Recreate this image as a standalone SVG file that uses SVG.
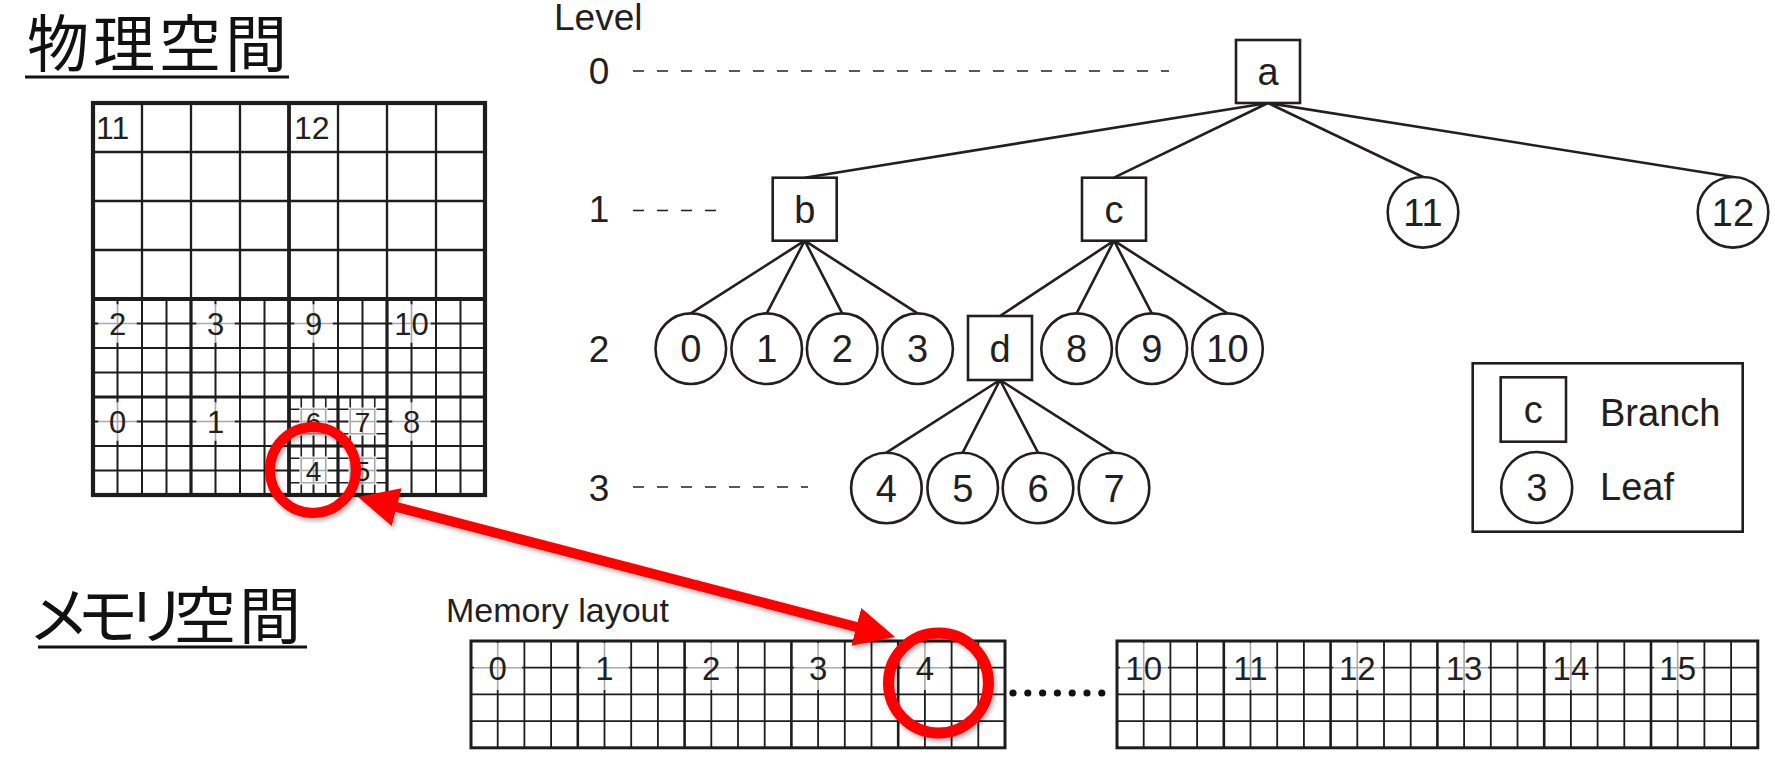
<svg xmlns="http://www.w3.org/2000/svg" width="1775" height="763" viewBox="0 0 1775 763">
<defs>
<style>
.t{font-family:"Liberation Sans",Arial,sans-serif;fill:#231f20}
.jp{font-family:"Noto Sans CJK JP","Noto Sans CJK SC",sans-serif;fill:#111}
.nl{font-size:38px;text-anchor:middle}
.gl{font-size:31px;text-anchor:middle}
.gs{font-size:28px;text-anchor:middle}
.ml{font-size:33px;text-anchor:middle}
.node{fill:#fff;stroke:#231f20;stroke-width:2.6}
.edge{stroke:#231f20;stroke-width:2.6;fill:none}
.dash{stroke:#231f20;stroke-width:1.6;stroke-dasharray:11 13;fill:none}
.k{stroke:#1d1d1d;fill:none}
.wh{stroke:#fff;stroke-width:3.5;fill:none}
.gr{stroke:#a9a9a9;stroke-width:1.6;fill:none}
.red{stroke:#ff0000;fill:none}
</style>
<filter id="sh" x="-20%" y="-20%" width="140%" height="140%">
<feDropShadow dx="2" dy="3" stdDeviation="2" flood-color="#000" flood-opacity="0.3"/>
</filter>
<marker id="ah" viewBox="0 -19.5 40 39" refX="28" refY="0" markerWidth="40" markerHeight="39" markerUnits="userSpaceOnUse" orient="auto-start-reverse">
<path d="M0,-19.5 L40,0 L0,19.5 Z" fill="#ff0000"/>
</marker>
</defs>
<rect width="1775" height="763" fill="#fff"/>

<g id="title-physical">
<text class="jp" font-size="62" text-anchor="middle" x="58 124 190 256" y="67">物理空間</text>
<path d="M25 77H289" stroke="#111" stroke-width="3"/>
</g>
<g id="title-memory">
<text class="jp" font-size="62" text-anchor="middle" x="59 107.5 156.5 205 270" y="639">メモリ空間</text>
<path d="M38 647H307" stroke="#111" stroke-width="3"/>
</g>

<g id="physical-grid">
<path class="k" stroke-width="2.3" d="M142 103V299M191 103V299M240 103V299M338 103V299M387 103V299M436 103V299M93 152H485M93 201H485M93 250H485"/>
<path class="k" stroke-width="2" d="M117.5 299V495M142 299V495M166.5 299V495M215.5 299V495M240 299V495M264.5 299V495M313.5 299V495M362.5 299V495M338 299V397M411.5 299V495M436 299V495M460.5 299V495M93 323.5H485M93 348H485M93 372.5H485M93 421.5H485M93 470.5H485M93 446H289M387 446H485"/>
<path class="k" stroke-width="1.6" d="M301.25 397V495M325.75 397V495M350.25 397V495M374.75 397V495M289 409.25H387M289 433.75H387M289 458.25H387M289 482.75H387"/>
<path class="k" stroke-width="3.2" d="M191 299V495M387 299V495M93 397H485M338 397V495M289 446H387"/>
<path class="k" stroke-width="3.8" d="M289 103V495M93 299H485"/>
<rect class="k" stroke-width="4.2" x="93" y="103" width="392" height="392"/>
<path class="wh" d="M98.5 323.5h38M117.5 304.5v38M196.5 323.5h38M215.5 304.5v38M294.5 323.5h38M313.5 304.5v38M392.5 323.5h38M411.5 304.5v38M98.5 421.5h38M117.5 402.5v38M196.5 421.5h38M215.5 402.5v38M392.5 421.5h38M411.5 402.5v38"/>
<path class="gr" d="M98.5 323.5h38M117.5 304.5v38M196.5 323.5h38M215.5 304.5v38M294.5 323.5h38M313.5 304.5v38M392.5 323.5h38M411.5 304.5v38M98.5 421.5h38M117.5 402.5v38M196.5 421.5h38M215.5 402.5v38M392.5 421.5h38M411.5 402.5v38"/>
<path class="wh" stroke-width="3" d="M301.25 409.25h24.5v24.5h-24.5zM301.25 421.5h24.5M313.5 409.25v24.5M350.25 409.25h24.5v24.5h-24.5zM350.25 421.5h24.5M362.5 409.25v24.5M301.25 458.25h24.5v24.5h-24.5zM301.25 470.5h24.5M313.5 458.25v24.5M350.25 458.25h24.5v24.5h-24.5zM350.25 470.5h24.5M362.5 458.25v24.5"/>
<path class="gr" stroke-width="1.3" d="M301.25 409.25h24.5v24.5h-24.5zM301.25 421.5h24.5M313.5 409.25v24.5M350.25 409.25h24.5v24.5h-24.5zM350.25 421.5h24.5M362.5 409.25v24.5M301.25 458.25h24.5v24.5h-24.5zM301.25 470.5h24.5M313.5 458.25v24.5M350.25 458.25h24.5v24.5h-24.5zM350.25 470.5h24.5M362.5 458.25v24.5"/>
<text class="t" font-size="32" x="96" y="139">11</text>
<text class="t" font-size="32" x="294" y="139">12</text>
<text class="t gl" x="117.5" y="334.5">2</text>
<text class="t gl" x="215.5" y="334.5">3</text>
<text class="t gl" x="313.5" y="334.5">9</text>
<text class="t gl" x="411.5" y="334.5">10</text>
<text class="t gl" x="117.5" y="432.5">0</text>
<text class="t gl" x="215.5" y="432.5">1</text>
<text class="t gl" x="411.5" y="432.5">8</text>
<text class="t gs" x="313.5" y="431.5">6</text>
<text class="t gs" x="362.5" y="431.5">7</text>
<text class="t gs" x="313.5" y="480.5">4</text>
<text class="t gs" x="362.5" y="480.5">5</text>
</g>

<g id="levels">
<text class="t" font-size="37" x="554" y="30">Level</text>
<text class="t" font-size="37" text-anchor="middle" x="599" y="84">0</text>
<text class="t" font-size="37" text-anchor="middle" x="599" y="222">1</text>
<text class="t" font-size="37" text-anchor="middle" x="599" y="362">2</text>
<text class="t" font-size="37" text-anchor="middle" x="599" y="501">3</text>
<path class="dash" d="M633 71H1169M633 210.5H726M633 487H808"/>
</g>

<g id="connectors">
<path class="edge" d="M1268 103L804.7 177.7M1268 103L1114 177.7M1268 103L1423 177M1268 103L1733 177"/>
<path class="edge" d="M804.7 240.7L690.8 313.4M804.7 240.7L766.7 313.4M804.7 240.7L842.2 313.4M804.7 240.7L917.6 313.4"/>
<path class="edge" d="M1114 240.7L1000 316M1114 240.7L1076.6 313.4M1114 240.7L1151.8 313.4M1114 240.7L1227.5 313.4"/>
<path class="edge" d="M1000 380L886.4 452.7M1000 380L962.7 452.7M1000 380L1038 452.7M1000 380L1114 452.7"/>
</g>

<g id="node-a"><rect class="node" x="1236" y="40" width="64" height="63"/><text class="t nl" x="1268" y="85">a</text></g>
<g id="node-b"><rect class="node" x="772.7" y="177.7" width="64" height="63"/><text class="t nl" x="804.7" y="223">b</text></g>
<g id="node-c"><rect class="node" x="1082" y="177.7" width="64" height="63"/><text class="t nl" x="1114" y="223">c</text></g>
<g id="node-11"><circle class="node" cx="1423" cy="212.3" r="35.3"/><text class="t nl" x="1423" y="226">11</text></g>
<g id="node-12"><circle class="node" cx="1733" cy="212.3" r="35.3"/><text class="t nl" x="1733" y="226">12</text></g>
<g id="node-0"><circle class="node" cx="690.8" cy="348.7" r="35.3"/><text class="t nl" x="690.8" y="362.3">0</text></g>
<g id="node-1"><circle class="node" cx="766.7" cy="348.7" r="35.3"/><text class="t nl" x="766.7" y="362.3">1</text></g>
<g id="node-2"><circle class="node" cx="842.2" cy="348.7" r="35.3"/><text class="t nl" x="842.2" y="362.3">2</text></g>
<g id="node-3"><circle class="node" cx="917.6" cy="348.7" r="35.3"/><text class="t nl" x="917.6" y="362.3">3</text></g>
<g id="node-d"><rect class="node" x="968" y="316" width="64" height="64"/><text class="t nl" x="1000" y="361.5">d</text></g>
<g id="node-8"><circle class="node" cx="1076.6" cy="348.7" r="35.3"/><text class="t nl" x="1076.6" y="362.3">8</text></g>
<g id="node-9"><circle class="node" cx="1151.8" cy="348.7" r="35.3"/><text class="t nl" x="1151.8" y="362.3">9</text></g>
<g id="node-10"><circle class="node" cx="1227.5" cy="348.7" r="35.3"/><text class="t nl" x="1227.5" y="362.3">10</text></g>
<g id="node-4"><circle class="node" cx="886.4" cy="488" r="35.3"/><text class="t nl" x="886.4" y="501.6">4</text></g>
<g id="node-5"><circle class="node" cx="962.7" cy="488" r="35.3"/><text class="t nl" x="962.7" y="501.6">5</text></g>
<g id="node-6"><circle class="node" cx="1038" cy="488" r="35.3"/><text class="t nl" x="1038" y="501.6">6</text></g>
<g id="node-7"><circle class="node" cx="1114" cy="488" r="35.3"/><text class="t nl" x="1114" y="501.6">7</text></g>

<g id="legend">
<rect class="k" stroke-width="2.6" x="1472.7" y="363.3" width="270" height="168.4"/>
<rect class="node" x="1500.7" y="377.3" width="65.3" height="64.4"/>
<text class="t nl" x="1533.3" y="423">c</text>
<circle class="node" cx="1536.7" cy="487.5" r="35.5"/>
<text class="t nl" x="1536.7" y="501">3</text>
<text class="t" font-size="38" x="1600" y="425.5">Branch</text>
<text class="t" font-size="38" x="1600" y="500">Leaf</text>
</g>

<g id="memory-layout">
<text class="t" font-size="34" x="446" y="622">Memory layout</text>
<path class="k" stroke-width="1.8" d="M497.7 641V747.8M524.4 641V747.8M551.1 641V747.8M604.5 641V747.8M631.2 641V747.8M657.9 641V747.8M711.3 641V747.8M738 641V747.8M764.7 641V747.8M818.1 641V747.8M844.8 641V747.8M871.5 641V747.8M924.9 641V747.8M951.6 641V747.8M978.3 641V747.8M471 667.7H1005M471 694.4H1005M471 721.1H1005"/>
<path class="k" stroke-width="2.6" d="M577.8 641V747.8M684.6 641V747.8M791.4 641V747.8M898.2 641V747.8"/>
<rect class="k" stroke-width="3" x="471" y="641" width="534" height="106.8"/>
<path class="k" stroke-width="1.8" d="M1143.7 641V747.8M1170.4 641V747.8M1197.1 641V747.8M1250.5 641V747.8M1277.2 641V747.8M1303.9 641V747.8M1357.3 641V747.8M1384 641V747.8M1410.7 641V747.8M1464.1 641V747.8M1490.8 641V747.8M1517.5 641V747.8M1570.9 641V747.8M1597.6 641V747.8M1624.3 641V747.8M1677.7 641V747.8M1704.4 641V747.8M1731.1 641V747.8M1117 667.7H1757.8M1117 694.4H1757.8M1117 721.1H1757.8"/>
<path class="k" stroke-width="2.6" d="M1223.8 641V747.8M1330.6 641V747.8M1437.4 641V747.8M1544.2 641V747.8M1651 641V747.8"/>
<rect class="k" stroke-width="3" x="1117" y="641" width="640.8" height="106.8"/>
<path class="wh" stroke-width="3.2" d="M474 667.7h47.7M497.7 643v47M580.8 667.7h47.7M604.5 643v47M687.6 667.7h47.7M711.3 643v47M794.4 667.7h47.7M818.1 643v47M901.2 667.7h47.7M924.9 643v47M1120 667.7h47.7M1143.7 643v47M1226.8 667.7h47.7M1250.5 643v47M1333.6 667.7h47.7M1357.3 643v47M1440.4 667.7h47.7M1464.1 643v47M1547.2 667.7h47.7M1570.9 643v47M1654 667.7h47.7M1677.7 643v47"/>
<path class="gr" stroke-width="1.5" d="M474 667.7h47.7M497.7 643v47M580.8 667.7h47.7M604.5 643v47M687.6 667.7h47.7M711.3 643v47M794.4 667.7h47.7M818.1 643v47M901.2 667.7h47.7M924.9 643v47M1120 667.7h47.7M1143.7 643v47M1226.8 667.7h47.7M1250.5 643v47M1333.6 667.7h47.7M1357.3 643v47M1440.4 667.7h47.7M1464.1 643v47M1547.2 667.7h47.7M1570.9 643v47M1654 667.7h47.7M1677.7 643v47"/>
<text class="t ml" x="497.7" y="679.5">0</text>
<text class="t ml" x="604.5" y="679.5">1</text>
<text class="t ml" x="711.3" y="679.5">2</text>
<text class="t ml" x="818.1" y="679.5">3</text>
<text class="t ml" x="924.9" y="679.5">4</text>
<text class="t ml" x="1143.7" y="679.5">10</text>
<text class="t ml" x="1250.5" y="679.5">11</text>
<text class="t ml" x="1357.3" y="679.5">12</text>
<text class="t ml" x="1464.1" y="679.5">13</text>
<text class="t ml" x="1570.9" y="679.5">14</text>
<text class="t ml" x="1677.7" y="679.5">15</text>
<g fill="#111">
<circle cx="1013" cy="693" r="3.6"/><circle cx="1027.8" cy="693" r="3.6"/><circle cx="1042.6" cy="693" r="3.6"/><circle cx="1057.4" cy="693" r="3.6"/><circle cx="1072.2" cy="693" r="3.6"/><circle cx="1087" cy="693" r="3.6"/><circle cx="1101.8" cy="693" r="3.6"/>
</g>
</g>

<g id="highlight" filter="url(#sh)">
<circle class="red" stroke-width="10" cx="313" cy="470" r="43"/>
<circle class="red" stroke-width="11" cx="938.5" cy="683" r="50"/>
<path class="red" stroke-width="10" d="M369.6 500L883.4 634" marker-start="url(#ah)" marker-end="url(#ah)"/>
</g>
</svg>
